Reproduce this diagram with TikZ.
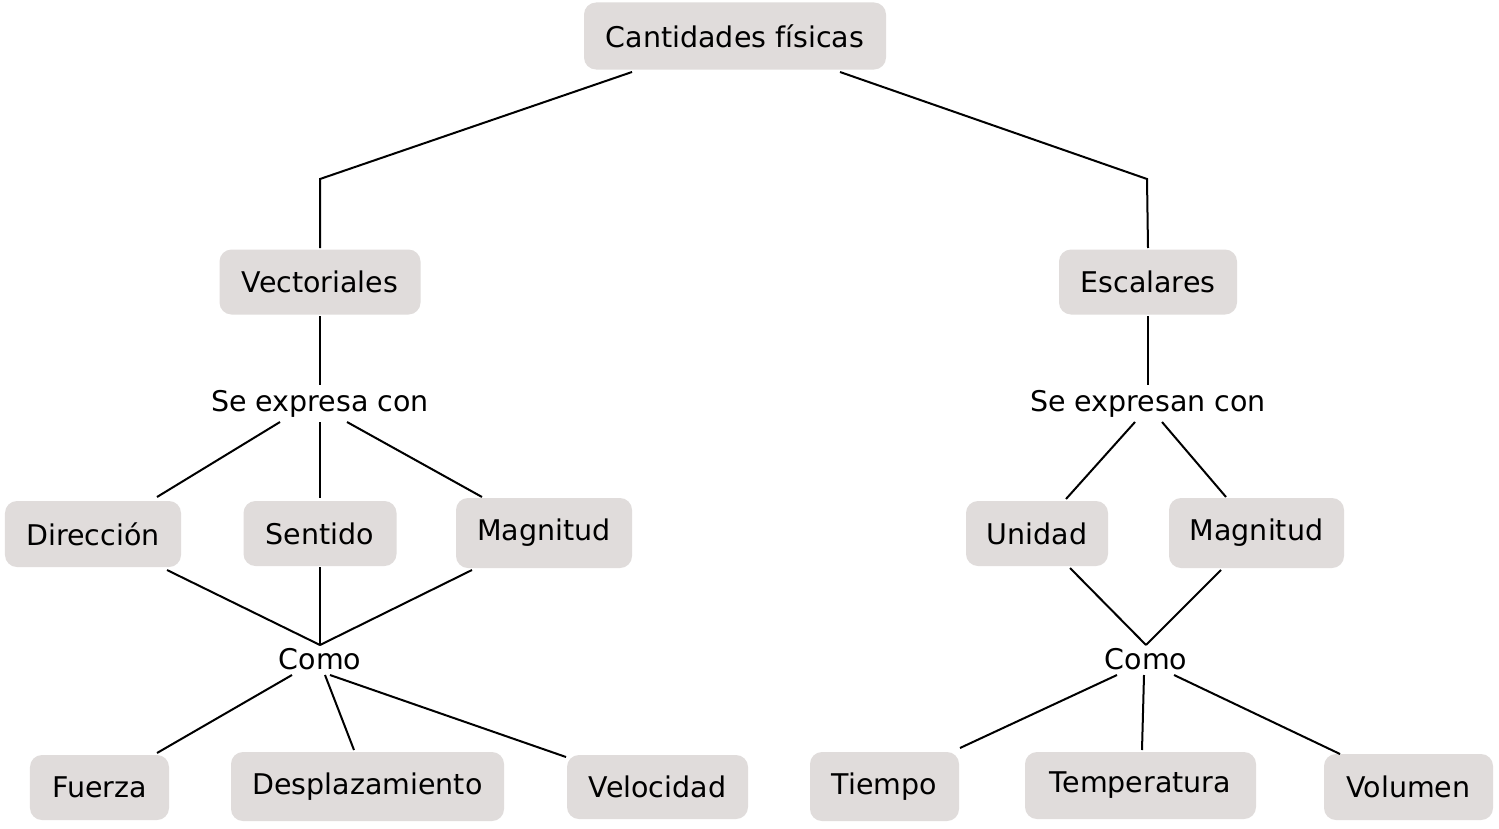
\documentclass[tikz,border=0pt]{standalone}
\usepackage{fontspec}
\setmainfont{DejaVu Sans}
\usetikzlibrary{calc}
\definecolor{boxgray}{HTML}{E0DCDB}
\begin{document}
\begin{tikzpicture}[x=1bp,y=-1bp,
  concept/.style={rectangle,rounded corners=12bp,fill=boxgray,draw=none,inner sep=0pt,
    font=\fontsize{28.5bp}{34bp}\selectfont,text=black},
  phrase/.style={inner sep=0pt,font=\fontsize{28.5bp}{34bp}\selectfont,text=black},
  link/.style={draw=black,line width=2bp}]
\useasboundingbox[fill=white] (0,0) rectangle (1499,828);
% concepts
\node[concept,minimum width=302bp,minimum height=67bp] (top) at (735,36) {Cantidades físicas};
\node[concept,minimum width=201bp,minimum height=65bp] (vec) at (320,282) {Vectoriales};
\node[concept,minimum width=178bp,minimum height=65bp] (esc) at (1148,282) {Escalares};
\node[phrase] (sec1) at (320,404) {Se expresa con};
\node[phrase] (sec2) at (1148,404) {Se expresan con};
\node[concept,minimum width=176bp,minimum height=66bp] (dir) at (93,534) {Dirección};
\node[concept,minimum width=153bp,minimum height=65bp] (sen) at (320,533.5) {Sentido};
\node[concept,minimum width=176bp,minimum height=70bp] (mag1) at (544,533) {Magnitud};
\node[concept,minimum width=142bp,minimum height=65bp] (uni) at (1037,533.5) {Unidad};
\node[concept,minimum width=175bp,minimum height=70bp] (mag2) at (1256.5,533) {Magnitud};
\node[phrase] (como1) at (320,659) {Como};
\node[phrase] (como2) at (1146,659) {Como};
\node[concept,minimum width=139bp,minimum height=65bp] (fue) at (99.5,787.5) {Fuerza};
\node[concept,minimum width=273bp,minimum height=69bp] (des) at (367.5,786.5) {Desplazamiento};
\node[concept,minimum width=181bp,minimum height=64bp] (vel) at (657.5,787) {Velocidad};
\node[concept,minimum width=149bp,minimum height=69bp] (tie) at (884.5,786.5) {Tiempo};
\node[concept,minimum width=231bp,minimum height=67bp] (tem) at (1140.5,785.5) {Temperatura};
\node[concept,minimum width=169bp,minimum height=66bp] (vol) at (1408.5,787) {Volumen};
\coordinate (bendL) at (320,179);
\coordinate (bendR) at (1147,179);
% connectors
\draw[link] ($(top)+(-103,36)$) -- (bendL) -- ($(vec)+(0,-34)$);
\draw[link] ($(top)+(105,36)$) -- (bendR) -- ($(esc)+(0,-34)$);
\draw[link] ($(vec)+(0,34)$) -- ($(sec1)+(0,-19)$);
\draw[link] ($(esc)+(0,34)$) -- ($(sec2)+(0,-19)$);
\draw[link] ($(sec1)+(-40,18)$) -- ($(dir)+(64,-37)$);
\draw[link] ($(sec1)+(0,18)$) -- ($(sen)+(0,-35.5)$);
\draw[link] ($(sec1)+(27,18)$) -- ($(mag1)+(-62,-36)$);
\draw[link] ($(dir)+(74,36)$) -- ($(como1)+(0,-14)$);
\draw[link] ($(sen)+(0,33.5)$) -- ($(como1)+(0,-14)$);
\draw[link] ($(mag1)+(-72,37)$) -- ($(como1)+(0,-14)$);
\draw[link] ($(como1)+(-28,16)$) -- ($(fue)+(57.5,-34.5)$);
\draw[link] ($(como1)+(5,16)$) -- ($(des)+(-13.5,-36.5)$);
\draw[link] ($(como1)+(10,16)$) -- ($(vel)+(-91.5,-30)$);
\draw[link] ($(sec2)+(-13,18)$) -- ($(uni)+(29,-34.5)$);
\draw[link] ($(sec2)+(14,18)$) -- ($(mag2)+(-30.5,-36)$);
\draw[link] ($(uni)+(33,34.5)$) -- ($(como2)+(0,-14)$);
\draw[link] ($(mag2)+(-35.5,37)$) -- ($(como2)+(0,-14)$);
\draw[link] ($(como2)+(-29,16)$) -- ($(tie)+(75.5,-38.5)$);
\draw[link] ($(como2)+(-2,16)$) -- ($(tem)+(1.5,-35.5)$);
\draw[link] ($(como2)+(28,16)$) -- ($(vol)+(-68.5,-33)$);
\end{tikzpicture}
\end{document}
